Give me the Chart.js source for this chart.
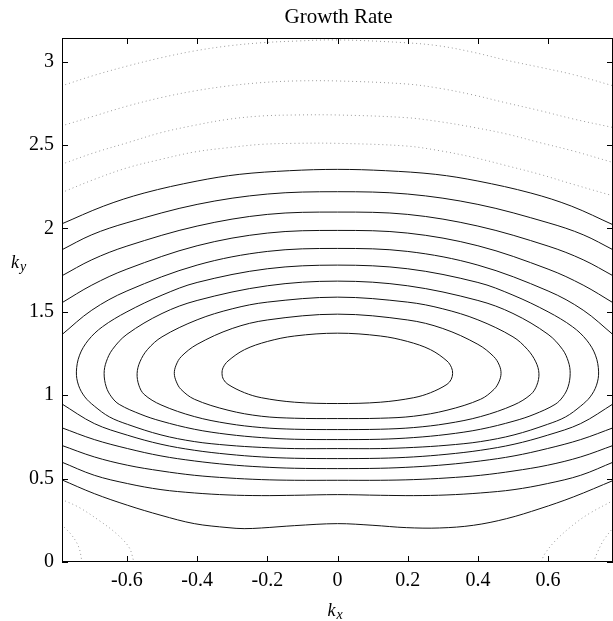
<!DOCTYPE html>
<html>
<head>
<meta charset="utf-8">
<script src="https://cdn.jsdelivr.net/npm/chart.js@4.4.0/dist/chart.umd.min.js"></script>
<style>
  html, body { margin: 0; padding: 0; background: #fff; }
  #wrap { width: 613px; height: 621px; }
</style>
</head>
<body>
<div id="wrap"><canvas id="myChart"></canvas></div>
<script>
// axis limits and ticks
var xLimits = [-0.785, 0.785];
var yLimits = [0, 3.1416];
var xTicks = [-0.6, -0.4, -0.2, 0, 0.2, 0.4, 0.6];
var yTicks = [0, 0.5, 1, 1.5, 2, 2.5, 3];
var titleText = 'Growth Rate';

// closed contours (solid), [kx, ky]
var ring1 = [[0,1.372],[0.122,1.355],[0.2,1.322],[0.265,1.273],[0.312,1.205],[0.325,1.165],[0.328,1.13],[0.324,1.095],[0.312,1.065],[0.265,1.015],[0.217,0.985],[0.122,0.958],[0,0.95],[-0.122,0.958],[-0.217,0.985],[-0.265,1.015],[-0.312,1.065],[-0.325,1.095],[-0.329,1.13],[-0.326,1.165],[-0.312,1.205],[-0.265,1.273],[-0.2,1.322],[-0.122,1.355]];
var ring2 = [[0,1.486],[0.2,1.451],[0.3,1.4],[0.4,1.305],[0.445,1.232],[0.461,1.18],[0.466,1.13],[0.46,1.08],[0.446,1.035],[0.408,0.976],[0.312,0.91],[0.217,0.874],[0.122,0.862],[0,0.86],[-0.122,0.862],[-0.217,0.874],[-0.312,0.91],[-0.408,0.976],[-0.446,1.035],[-0.459,1.08],[-0.465,1.13],[-0.46,1.18],[-0.445,1.232],[-0.4,1.305],[-0.3,1.4],[-0.2,1.451]];
var ring3 = [[0,1.588],[0.2,1.558],[0.3,1.518],[0.4,1.452],[0.5,1.35],[0.541,1.275],[0.565,1.2],[0.574,1.13],[0.568,1.06],[0.551,1.005],[0.503,0.942],[0.408,0.872],[0.312,0.83],[0.217,0.806],[0.122,0.796],[0,0.794],[-0.122,0.796],[-0.217,0.806],[-0.312,0.83],[-0.408,0.872],[-0.503,0.942],[-0.551,1.005],[-0.566,1.06],[-0.571,1.13],[-0.563,1.2],[-0.541,1.275],[-0.5,1.35],[-0.4,1.452],[-0.3,1.518],[-0.2,1.558]];
var ring4 = [[0,1.684],[0.2,1.656],[0.4,1.568],[0.5,1.49],[0.6,1.365],[0.641,1.275],[0.658,1.2],[0.663,1.13],[0.657,1.05],[0.642,0.99],[0.62,0.945],[0.56,0.885],[0.503,0.845],[0.408,0.796],[0.312,0.765],[0.217,0.746],[0.122,0.736],[0,0.734],[-0.122,0.736],[-0.217,0.746],[-0.312,0.765],[-0.408,0.796],[-0.503,0.845],[-0.56,0.885],[-0.622,0.945],[-0.644,0.99],[-0.659,1.05],[-0.665,1.13],[-0.659,1.2],[-0.641,1.275],[-0.6,1.365],[-0.5,1.49],[-0.4,1.568],[-0.2,1.656]];
var ring5 = [[0,1.78],[0.2,1.758],[0.4,1.676],[0.5,1.6],[0.6,1.5],[0.67,1.41],[0.71,1.33],[0.735,1.24],[0.744,1.14],[0.738,1.06],[0.72,0.99],[0.693,0.935],[0.65,0.87],[0.598,0.825],[0.503,0.762],[0.408,0.722],[0.312,0.7],[0.217,0.687],[0.122,0.68],[0,0.68],[-0.122,0.68],[-0.217,0.687],[-0.312,0.7],[-0.408,0.722],[-0.503,0.762],[-0.598,0.825],[-0.65,0.87],[-0.693,0.935],[-0.72,0.99],[-0.738,1.06],[-0.744,1.14],[-0.735,1.24],[-0.71,1.33],[-0.67,1.41],[-0.6,1.5],[-0.5,1.6],[-0.4,1.676],[-0.2,1.758]];

// open contours (solid): upper arcs and lower arcs, cut by the frame
var arc6Up = [[-0.787,1.36],[-0.7,1.51],[-0.6,1.625],[-0.4,1.78],[-0.2,1.862],[0,1.88],[0.2,1.862],[0.4,1.78],[0.6,1.625],[0.7,1.51],[0.787,1.36]];
var arc7Up = [[-0.787,1.552],[-0.7,1.66],[-0.6,1.756],[-0.4,1.896],[-0.2,1.972],[0,1.988],[0.2,1.972],[0.4,1.896],[0.6,1.756],[0.7,1.66],[0.787,1.552]];
var arc8Up = [[-0.787,1.714],[-0.7,1.812],[-0.6,1.894],[-0.4,2.014],[-0.2,2.084],[0,2.098],[0.2,2.084],[0.4,2.014],[0.6,1.894],[0.7,1.812],[0.787,1.714]];
var arc9Up = [[-0.787,1.87],[-0.7,1.962],[-0.6,2.034],[-0.4,2.144],[-0.2,2.206],[0,2.22],[0.2,2.206],[0.4,2.144],[0.6,2.034],[0.7,1.962],[0.787,1.87]];
var arc10Up = [[-0.787,2.026],[-0.666,2.134],[-0.551,2.212],[-0.4,2.284],[-0.28,2.324],[-0.137,2.346],[0,2.354],[0.137,2.346],[0.28,2.324],[0.4,2.284],[0.551,2.212],[0.666,2.134],[0.787,2.02]];
var arc6Low = [[-0.787,0.95],[-0.693,0.83],[-0.598,0.76],[-0.503,0.706],[-0.408,0.67],[-0.312,0.646],[-0.217,0.63],[-0.122,0.622],[0,0.62],[0.122,0.622],[0.217,0.63],[0.312,0.646],[0.408,0.67],[0.503,0.706],[0.598,0.76],[0.693,0.83],[0.787,0.95]];
var arc7Low = [[-0.787,0.806],[-0.693,0.734],[-0.598,0.68],[-0.503,0.636],[-0.408,0.606],[-0.312,0.584],[-0.217,0.57],[-0.122,0.562],[0,0.56],[0.122,0.562],[0.217,0.57],[0.312,0.584],[0.408,0.606],[0.503,0.636],[0.598,0.68],[0.693,0.734],[0.787,0.806]];
var arc8Low = [[-0.787,0.7],[-0.693,0.63],[-0.598,0.58],[-0.503,0.546],[-0.408,0.52],[-0.312,0.504],[-0.217,0.494],[-0.122,0.49],[0,0.49],[0.122,0.49],[0.217,0.494],[0.312,0.504],[0.408,0.52],[0.503,0.546],[0.598,0.58],[0.693,0.63],[0.787,0.7]];
var arc9Low = [[-0.787,0.6],[-0.693,0.52],[-0.598,0.47],[-0.503,0.434],[-0.408,0.414],[-0.312,0.402],[-0.217,0.398],[-0.122,0.4],[0,0.404],[0.122,0.4],[0.217,0.398],[0.312,0.402],[0.408,0.414],[0.503,0.434],[0.598,0.47],[0.693,0.52],[0.787,0.6]];
var arc10Low = [[-0.787,0.494],[-0.693,0.41],[-0.598,0.34],[-0.503,0.28],[-0.408,0.23],[-0.312,0.206],[-0.266,0.2],[-0.217,0.204],[-0.122,0.218],[0,0.23],[0.101,0.22],[0.196,0.206],[0.291,0.204],[0.387,0.22],[0.482,0.26],[0.577,0.32],[0.672,0.39],[0.787,0.49]];

// dotted contours near the top and in the bottom corners
var dot1 = [[-0.787,2.854],[-0.693,2.918],[-0.598,2.974],[-0.503,3.023],[-0.408,3.064],[-0.312,3.094],[-0.217,3.113],[-0.122,3.123],[0,3.13],[0.196,3.113],[0.291,3.094],[0.387,3.056],[0.482,3.008],[0.577,2.966],[0.672,2.922],[0.787,2.854]];
var dot2 = [[-0.787,2.614],[-0.693,2.674],[-0.598,2.734],[-0.503,2.784],[-0.408,2.824],[-0.312,2.854],[-0.217,2.874],[-0.122,2.884],[0,2.884],[0.196,2.866],[0.291,2.84],[0.387,2.8],[0.482,2.752],[0.577,2.706],[0.672,2.656],[0.787,2.604]];
var dot3 = [[-0.787,2.384],[-0.693,2.454],[-0.598,2.514],[-0.503,2.574],[-0.408,2.618],[-0.312,2.654],[-0.217,2.674],[-0.122,2.68],[0,2.68],[0.196,2.664],[0.291,2.64],[0.387,2.606],[0.482,2.566],[0.577,2.514],[0.672,2.464],[0.787,2.394]];
var dot4 = [[-0.787,2.214],[-0.693,2.294],[-0.598,2.364],[-0.503,2.414],[-0.408,2.458],[-0.312,2.484],[-0.217,2.504],[-0.122,2.51],[0,2.51],[0.196,2.494],[0.291,2.466],[0.387,2.426],[0.482,2.376],[0.577,2.324],[0.672,2.264],[0.787,2.194]];
var dotLeftOut = [[-0.787,0.376],[-0.737,0.328],[-0.68,0.25],[-0.631,0.172],[-0.594,0.088],[-0.58,0]];
var dotLeftIn = [[-0.787,0.226],[-0.757,0.16],[-0.737,0.088],[-0.728,0]];
var dotRightOut = [[0.787,0.37],[0.717,0.29],[0.67,0.22],[0.622,0.13],[0.591,0.05],[0.58,0]];
var dotRightIn = [[0.787,0.21],[0.758,0.13],[0.739,0.05],[0.73,0]];

var rings = [ring1, ring2, ring3, ring4, ring5];
var arcs = [arc6Up, arc7Up, arc8Up, arc9Up, arc10Up, arc6Low, arc7Low, arc8Low, arc9Low, arc10Low];
var dots = [dot1, dot2, dot3, dot4, dotLeftOut, dotLeftIn, dotRightOut, dotRightIn];

var serif = '"Liberation Serif", "Times New Roman", serif';

function toPoints(list) {
  return list.map(function (p) { return { x: p[0], y: p[1] }; });
}

var datasets = [];
rings.forEach(function (r) {
  // run past the start so the join is smooth, and hide the two end pieces
  var n = r.length;
  datasets.push({
    data: toPoints(r.concat(r.slice(0, 3))),
    borderColor: '#111', borderWidth: 1, tension: 0.35,
    segment: {
      borderColor: function (c) {
        return (c.p0DataIndex === 0 || c.p0DataIndex === n + 1) ? 'rgba(0,0,0,0)' : undefined;
      }
    }
  });
});
arcs.forEach(function (a) {
  datasets.push({ data: toPoints(a), borderColor: '#111', borderWidth: 1, tension: 0.35 });
});
dots.forEach(function (d) {
  datasets.push({ data: toPoints(d), borderColor: '#999', borderWidth: 1, borderDash: [1, 3], tension: 0.35 });
});

// title over the plot box, frame, inward ticks and the k_x / k_y labels
var framePlugin = {
  id: 'frame',
  afterDraw: function (chart) {
    var ctx = chart.ctx, a = chart.chartArea;
    var sx = chart.scales.x, sy = chart.scales.y;
    var mid = (a.left + a.right) / 2;
    ctx.save();
    ctx.strokeStyle = '#000';
    ctx.lineWidth = 1;
    ctx.strokeRect(a.left + 0.5, a.top + 0.5, a.right - a.left - 1, a.bottom - a.top - 1);
    ctx.beginPath();
    xTicks.forEach(function (v) {
      var px = Math.round(sx.getPixelForValue(v)) + 0.5;
      ctx.moveTo(px, a.bottom); ctx.lineTo(px, a.bottom - 6);
      ctx.moveTo(px, a.top); ctx.lineTo(px, a.top + 6);
    });
    yTicks.forEach(function (v) {
      var py = Math.round(sy.getPixelForValue(v)) + 0.5;
      ctx.moveTo(a.left, py); ctx.lineTo(a.left + 6, py);
      ctx.moveTo(a.right, py); ctx.lineTo(a.right - 6, py);
    });
    ctx.stroke();

    ctx.fillStyle = '#000';
    ctx.textBaseline = 'alphabetic';
    ctx.textAlign = 'center';
    ctx.font = '21px ' + serif;
    ctx.fillText(titleText, mid + 1, 23);

    ctx.textAlign = 'left';
    // x label
    ctx.font = 'italic 18px ' + serif;
    var kw = ctx.measureText('k').width;
    var kx = mid - 10;
    ctx.fillText('k', kx, 616);
    ctx.font = 'italic 14px ' + serif;
    ctx.fillText('x', kx + kw + 1, 619);
    // y label
    ctx.font = 'italic 18px ' + serif;
    ctx.fillText('k', 11, 268);
    ctx.font = 'italic 14px ' + serif;
    ctx.fillText('y', 11 + kw + 1, 271);
    ctx.restore();
  }
};

var ctx = document.getElementById('myChart').getContext('2d');
var chart = new Chart(ctx, {
  type: 'scatter',
  data: { datasets: datasets },
  options: {
    responsive: true,
    maintainAspectRatio: false,
    animation: false,
    showLine: true,
    elements: { point: { radius: 0, hoverRadius: 0 } },
    layout: { padding: { top: 38, left: 0, right: 0, bottom: 0 } },
    plugins: {
      legend: { display: false },
      tooltip: { enabled: false },
      title: { display: false }
    },
    scales: {
      x: {
        type: 'linear',
        min: xLimits[0],
        max: xLimits[1],
        grid: { display: false, drawTicks: false },
        border: { display: false },
        ticks: {
          color: '#000',
          font: { family: serif, size: 20 },
          padding: 7,
          maxRotation: 0,
          autoSkip: false,
          callback: function (v) { return String(Math.round(v * 10) / 10); }
        },
        afterBuildTicks: function (s) { s.ticks = xTicks.map(function (v) { return { value: v }; }); },
        afterFit: function (s) { s.height = 59; }
      },
      y: {
        type: 'linear',
        min: yLimits[0],
        max: yLimits[1],
        grid: { display: false, drawTicks: false },
        border: { display: false },
        ticks: {
          color: '#000',
          font: { family: serif, size: 20 },
          padding: 8,
          autoSkip: false,
          callback: function (v) { return String(Math.round(v * 10) / 10); }
        },
        afterBuildTicks: function (s) { s.ticks = yTicks.map(function (v) { return { value: v }; }); },
        afterFit: function (s) { s.width = 62; }
      }
    }
  },
  plugins: [framePlugin]
});
</script>
</body>
</html>
